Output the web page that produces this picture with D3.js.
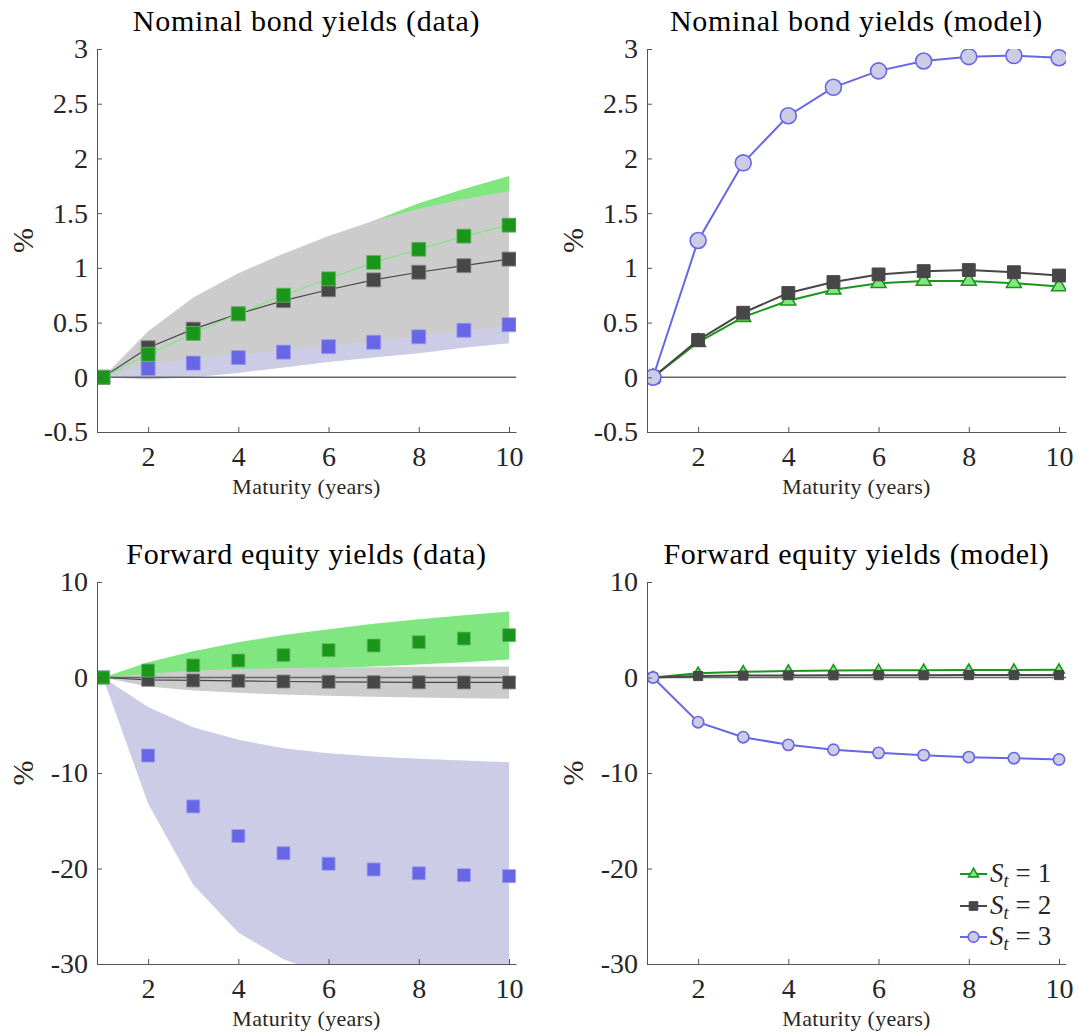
<!DOCTYPE html>
<html>
<head>
<meta charset="utf-8">
<title>Bond and equity yields by state</title>
<style>
  body { margin: 0; background: #fff; }
  svg text { font-family: "Liberation Serif", "Tinos", "DejaVu Serif", serif; fill: #262626; }
  .title { font-size: 30px; letter-spacing: 0.7px; fill: #000; }
  .xlabel { font-size: 22px; letter-spacing: 0.3px; }
  .ylabel { font-size: 30px; }
  .axis path, .axis line { stroke: #555; }
</style>
</head>
<body>
<svg id="chart" width="1081" height="1032"></svg>
<script src="https://cdn.jsdelivr.net/npm/d3@7"></script>
<script>
const maturities = [1, 2, 3, 4, 5, 6, 7, 8, 9, 10];
const xTicks = [2, 4, 6, 8, 10];
const bondTicks = [-0.5, 0, 0.5, 1, 1.5, 2, 2.5, 3];
const equityTicks = [-30, -20, -10, 0, 10];
const stateLabels = ["1", "2", "3"];

// nominal bond yields, data (point estimates + bands)
const bondData1 = [0, 0.21, 0.40, 0.58, 0.75, 0.90, 1.05, 1.17, 1.29, 1.39];
const bondData2 = [0, 0.27, 0.44, 0.58, 0.70, 0.80, 0.89, 0.96, 1.02, 1.08];
const bondData3 = [0, 0.08, 0.13, 0.18, 0.23, 0.28, 0.32, 0.37, 0.43, 0.48];
const bondBand1Lo = [0, 0.05, 0.15, 0.30, 0.45, 0.58, 0.70, 0.80, 0.90, 0.98];
const bondBand1Hi = [0, 0.35, 0.62, 0.85, 1.05, 1.24, 1.43, 1.59, 1.72, 1.84];
const bondBand2Lo = [0, 0.12, 0.17, 0.21, 0.25, 0.29, 0.33, 0.38, 0.43, 0.47];
const bondBand2Hi = [0, 0.42, 0.73, 0.95, 1.13, 1.29, 1.43, 1.54, 1.63, 1.70];
const bondBand3Lo = [0, -0.02, 0.00, 0.04, 0.09, 0.14, 0.18, 0.22, 0.27, 0.31];
const bondBand3Hi = [0, 0.16, 0.25, 0.32, 0.37, 0.42, 0.47, 0.52, 0.57, 0.62];

// nominal bond yields, model
const bondModel1 = [0, 0.32, 0.55, 0.70, 0.80, 0.86, 0.88, 0.88, 0.86, 0.83];
const bondModel2 = [0, 0.34, 0.59, 0.77, 0.87, 0.94, 0.97, 0.98, 0.96, 0.93];
const bondModel3 = [0, 1.25, 1.96, 2.39, 2.65, 2.80, 2.89, 2.93, 2.94, 2.92];

// forward equity yields, data
const equityData1 = [0, 0.73, 1.26, 1.78, 2.34, 2.86, 3.35, 3.70, 4.08, 4.43];
const equityData2 = [0, -0.24, -0.31, -0.35, -0.42, -0.45, -0.49, -0.50, -0.52, -0.52];
const equityData3 = [0, -8.17, -13.5, -16.6, -18.4, -19.5, -20.1, -20.5, -20.7, -20.8];
const equityBand1Lo = [0, 0.20, 0.45, 0.66, 0.80, 0.98, 1.15, 1.36, 1.60, 1.88];
const equityBand1Hi = [0, 1.60, 2.76, 3.70, 4.46, 5.06, 5.62, 6.11, 6.53, 6.91];
const equityBand2Lo = [0, -0.94, -1.36, -1.60, -1.78, -1.92, -2.02, -2.09, -2.16, -2.23];
const equityBand2Hi = [0, 0.38, 0.73, 0.87, 0.98, 1.05, 1.08, 1.12, 1.15, 1.15];
const equityBand3Lo = [0, -13.2, -21.7, -26.7, -29.5, -31.2, -32.3, -33.0, -33.5, -34.0];
const equityBand3Hi = [0, -3.1, -5.2, -6.53, -7.4, -7.92, -8.27, -8.52, -8.69, -8.87];

// forward equity yields, model
const equityModel1 = [0, 0.45, 0.60, 0.68, 0.72, 0.75, 0.77, 0.78, 0.79, 0.80];
const equityModel2 = [0, 0.15, 0.20, 0.22, 0.23, 0.24, 0.24, 0.25, 0.25, 0.25];
const equityModel3 = [0, -4.68, -6.25, -7.05, -7.57, -7.89, -8.13, -8.34, -8.45, -8.59];

const green = "#1a961a", lightGreen = "#80e680", dark = "#474747",
      gray = "#cccccc", blue = "#6666e6", lavender = "#ccccE6";

const svg = d3.select("#chart");

function panel(opt) {
  const x = d3.scaleLinear().domain([0.867, 10.155]).range([opt.left, opt.left + 419]);
  const y = d3.scaleLinear().domain(opt.yDomain).range([opt.bottom, opt.top]);
  const g = svg.append("g");
  const clipId = "clip" + opt.id;
  g.append("clipPath").attr("id", clipId).append("rect")
    .attr("x", opt.left).attr("y", opt.top)
    .attr("width", 419).attr("height", opt.bottom - opt.top);
  const plot = g.append("g").attr("clip-path", `url(#${clipId})`);

  // confidence bands
  (opt.bands || []).forEach(b => {
    const area = d3.area().x((d, i) => x(maturities[i])).y0(d => y(d[0])).y1(d => y(d[1]));
    plot.append("path").datum(b.lo.map((v, i) => [v, b.hi[i]]))
      .attr("d", area).attr("fill", b.color);
  });

  // zero line
  plot.append("line")
    .attr("x1", x(1)).attr("x2", x.range()[1])
    .attr("y1", y(0)).attr("y2", y(0))
    .attr("stroke", "#666").attr("stroke-width", 1.5);

  const line = d3.line().x((d, i) => x(maturities[i])).y(d => y(d));
  opt.series.forEach(s => {
    if (s.line) {
      plot.append("path").datum(s.values).attr("d", line)
        .attr("fill", "none").attr("stroke", s.line).attr("stroke-width", s.lw);
    }
    const sym = d3.symbol().type(s.shape).size(s.size);
    plot.selectAll(null).data(s.values).enter().append("path")
      .attr("transform", (d, i) => `translate(${x(maturities[i])},${y(d)})`)
      .attr("d", sym)
      .attr("fill", s.fill).attr("stroke", s.stroke).attr("stroke-width", s.sw);
  });

  const fmt = d => String(d);
  const yAxis = g.append("g").attr("class", "axis")
    .attr("transform", `translate(${opt.left},0)`)
    .call(d3.axisLeft(y).tickValues(opt.yTicks).tickFormat(fmt).tickSize(-5).tickSizeOuter(0).tickPadding(9));
  const xAxis = g.append("g").attr("class", "axis")
    .attr("transform", `translate(0,${opt.bottom})`)
    .call(d3.axisBottom(x).tickValues(xTicks).tickFormat(fmt).tickSize(-5).tickSizeOuter(0).tickPadding(14));
  [yAxis, xAxis].forEach(a => a.attr("font-family", null).attr("font-size", 28));

  const cx = opt.left + 209.5;
  g.append("text").attr("class", "title").attr("x", cx).attr("y", opt.top - 18)
    .attr("text-anchor", "middle").text(opt.title);
  g.append("text").attr("class", "xlabel").attr("x", cx).attr("y", opt.bottom + 62)
    .attr("text-anchor", "middle").text("Maturity (years)");
  g.append("text").attr("class", "ylabel")
    .attr("transform", `translate(${opt.left - 64},${(opt.top + opt.bottom) / 2}) rotate(-90)`)
    .attr("text-anchor", "middle").text("%");
}

const dataSeries = (v1, v2, v3, sz, withLine1) => [
  { values: v3, shape: d3.symbolSquare, size: sz, fill: blue, stroke: "#9a9af0", sw: 0.8 },
  { values: v2, shape: d3.symbolSquare, size: sz, fill: dark, stroke: "#888", sw: 0.8, line: dark, lw: 1.2 },
  { values: v1, shape: d3.symbolSquare, size: sz, fill: green, stroke: "#6ab86a", sw: 0.8, line: withLine1 ? lightGreen : null, lw: 1.2 }
];
const modelSeries = (v1, v2, v3, k) => [
  { values: v1, shape: d3.symbolTriangle, size: 95 * k, fill: lightGreen, stroke: green, sw: 1.6, line: green, lw: 2 },
  { values: v2, shape: d3.symbolSquare, size: 165 * k, fill: dark, stroke: dark, sw: 1, line: dark, lw: 2 },
  { values: v3, shape: d3.symbolCircle, size: 200 * k, fill: lavender, stroke: blue, sw: 1.6, line: blue, lw: 2 }
];

panel({
  id: 1, left: 97, top: 49, bottom: 432, yDomain: [-0.5, 3], yTicks: bondTicks,
  title: "Nominal bond yields (data)",
  bands: [
    { lo: bondBand1Lo, hi: bondBand1Hi, color: lightGreen },
    { lo: bondBand3Lo, hi: bondBand3Hi, color: lavender },
    { lo: bondBand2Lo, hi: bondBand2Hi, color: gray }
  ],
  series: dataSeries(bondData1, bondData2, bondData3, 196, true)
});

panel({
  id: 2, left: 647, top: 49, bottom: 432, yDomain: [-0.5, 3], yTicks: bondTicks,
  title: "Nominal bond yields (model)",
  series: modelSeries(bondModel1, bondModel2, bondModel3, 1)
});

panel({
  id: 3, left: 97, top: 582, bottom: 964, yDomain: [-30, 10], yTicks: equityTicks,
  title: "Forward equity yields (data)",
  bands: [
    { lo: equityBand1Lo, hi: equityBand1Hi, color: lightGreen },
    { lo: equityBand2Lo, hi: equityBand2Hi, color: gray },
    { lo: equityBand3Lo, hi: equityBand3Hi, color: lavender }
  ],
  series: dataSeries(equityData1, equityData2, equityData3, 169, false)
});

panel({
  id: 4, left: 647, top: 582, bottom: 964, yDomain: [-30, 10], yTicks: equityTicks,
  title: "Forward equity yields (model)",
  series: modelSeries(equityModel1, equityModel2, equityModel3, 0.5)
});

// legend
const legendStyles = modelSeries([0], [0], [0], 0.45);
const legend = svg.append("g").attr("transform", "translate(960,874)");
legendStyles.forEach((s, i) => {
  const row = legend.append("g").attr("transform", `translate(0,${[0, 32, 63][i]})`);
  row.append("line").attr("x1", 0).attr("x2", 27).attr("stroke", s.line).attr("stroke-width", 2);
  row.append("path").attr("transform", "translate(13.5,0)")
    .attr("d", d3.symbol().type(s.shape).size(s.size))
    .attr("fill", s.fill).attr("stroke", s.stroke).attr("stroke-width", s.sw);
  const t = row.append("text").attr("x", 30).attr("y", 8).attr("font-size", 27);
  t.append("tspan").attr("font-style", "italic").text("S");
  t.append("tspan").attr("font-style", "italic").attr("font-size", 18).attr("dy", 5).text("t");
  t.append("tspan").attr("dy", -5).attr("dx", 7).text("=");
  t.append("tspan").attr("dx", 7).text(stateLabels[i]);
});
</script>
</body>
</html>
